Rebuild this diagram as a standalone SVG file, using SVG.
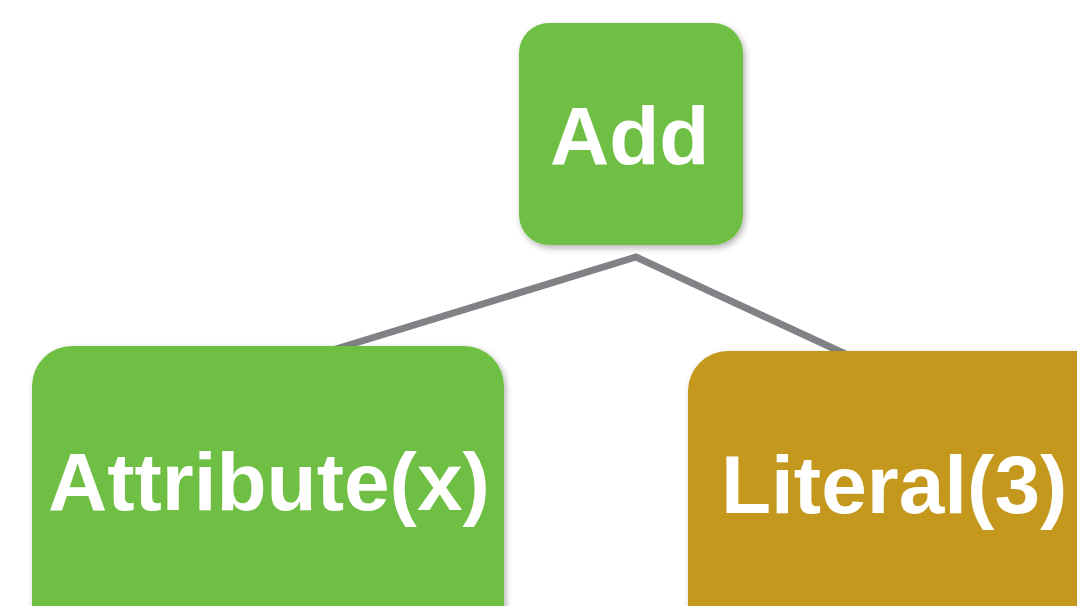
<svg xmlns="http://www.w3.org/2000/svg" width="1077" height="606" viewBox="0 0 1077 606">
<defs>
<filter id="sh" x="-10%" y="-10%" width="130%" height="130%">
<feDropShadow dx="2" dy="3" stdDeviation="3" flood-color="#000" flood-opacity="0.3"/>
</filter>
<style>
.lbl{font-family:"Liberation Sans",Arial,sans-serif;font-weight:bold;font-size:82px;fill:#ffffff}
.edge{stroke:#808285;stroke-width:7;fill:none;stroke-linejoin:miter}
</style>
</defs>
<rect width="1077" height="606" fill="#ffffff"/>
<g id="connectors">
<polyline class="edge" points="300,360 636,257 880,370"/>
</g>
<g id="node-add">
<rect x="519" y="23" width="224" height="222" rx="30" fill="#70BF44" filter="url(#sh)"/>
<text class="lbl" x="550" y="164">Add</text>
</g>
<g id="node-attribute">
<rect x="32" y="346" width="472" height="300" rx="40" fill="#70BF44" filter="url(#sh)"/>
<text class="lbl" x="48" y="510">Attribute(x)</text>
</g>
<g id="node-literal">
<rect x="688" y="351" width="460" height="300" rx="40" fill="#C3981C" filter="url(#sh)"/>
<text class="lbl" x="721" y="513">Literal(3)</text>
</g>
</svg>
